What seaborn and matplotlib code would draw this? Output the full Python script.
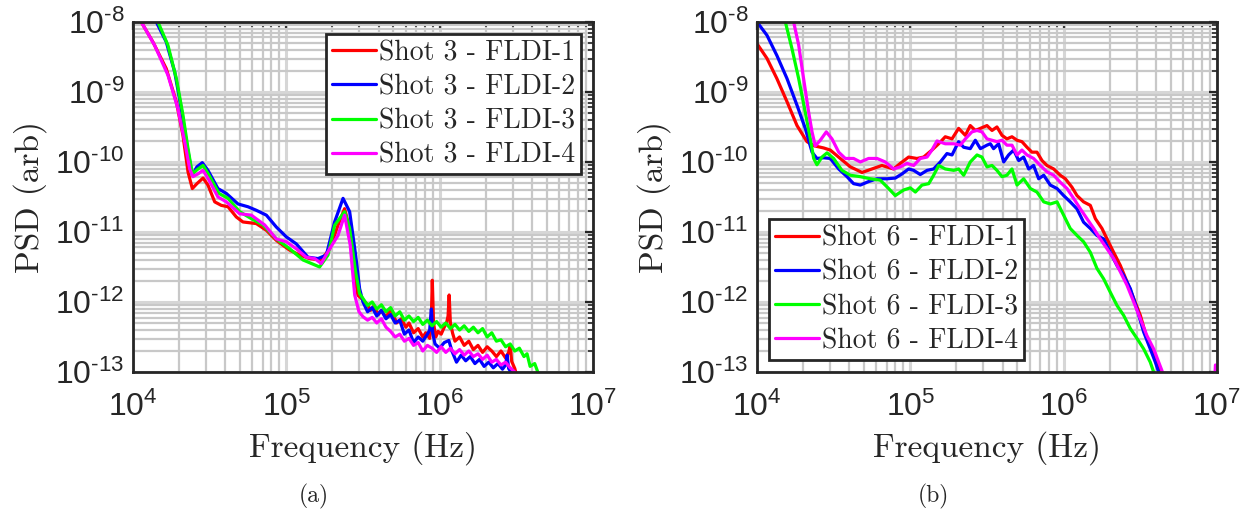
import numpy as np
import pandas as pd
import matplotlib
matplotlib.use("Agg")
import matplotlib.pyplot as plt
import seaborn as sns
from matplotlib.ticker import FuncFormatter, LogLocator, NullFormatter

# values, stored as log10(frequency) / log10(PSD)

# ---- (a) shot 3 ----
a1_f = [4.0, 4.054, 4.13, 4.217, 4.283, 4.326, 4.359, 4.387, 4.417, 4.457, 4.489, 4.533, 4.576, 4.62, 4.674,
        4.717, 4.804, 4.87, 4.935, 5.022, 5.087, 5.152, 5.228, 5.283, 5.337, 5.38, 5.413, 5.446, 5.467,
        5.50, 5.53, 5.55, 5.57, 5.60, 5.62, 5.65, 5.68, 5.70, 5.72, 5.75, 5.78, 5.80, 5.83, 5.86, 5.89, 5.91,
        5.935, 5.945, 5.952, 5.96, 5.975, 5.99, 6.01, 6.03, 6.045, 6.055, 6.062, 6.07, 6.085, 6.10, 6.13, 6.16,
        6.19, 6.22, 6.25, 6.28, 6.31, 6.34, 6.37, 6.40, 6.43, 6.45, 6.46, 6.47, 6.49, 6.52]
a1_p = [-7.75, -8.0, -8.286, -8.667, -9.143, -9.62, -10.143, -10.38, -10.31, -10.23, -10.33, -10.57, -10.62,
        -10.64, -10.786, -10.857, -10.88, -10.976, -11.12, -11.26, -11.33, -11.38, -11.40, -11.24, -10.905,
        -10.667, -10.95, -11.62, -11.905,
        -11.97, -12.04, -12.12, -12.06, -12.18, -12.12, -12.22, -12.10, -12.20, -12.30, -12.24, -12.36, -12.30,
        -12.44, -12.38, -12.50, -12.44, -12.52, -12.3, -11.69, -12.3, -12.50, -12.42, -12.46, -12.36, -12.30,
        -12.2, -11.9, -12.3, -12.45, -12.56, -12.50, -12.62, -12.56, -12.68, -12.62, -12.72, -12.64, -12.70,
        -12.78, -12.70, -12.80, -12.72, -12.62, -12.85, -12.95, -13.2]

a2_f = [4.10, 4.152, 4.217, 4.272, 4.315, 4.348, 4.387, 4.417, 4.452, 4.489, 4.554, 4.609, 4.685, 4.75, 4.804,
        4.87, 4.935, 5.0, 5.065, 5.141, 5.207, 5.261, 5.315, 5.37, 5.413, 5.452, 5.478,
        5.50, 5.53, 5.56, 5.59, 5.62, 5.65, 5.68, 5.71, 5.74, 5.77, 5.80, 5.83, 5.86, 5.89, 5.92, 5.935, 5.946,
        5.955, 5.97, 6.00, 6.03, 6.06, 6.08, 6.11, 6.14, 6.17, 6.20, 6.23, 6.26, 6.29, 6.32, 6.35, 6.38, 6.41,
        6.43, 6.44, 6.45, 6.48, 6.52]
a2_p = [-7.75, -8.0, -8.286, -8.714, -9.238, -9.714, -10.19, -10.07, -10.01, -10.12, -10.38, -10.45, -10.6,
        -10.64, -10.69, -10.76, -10.93, -11.07, -11.17, -11.36, -11.38, -11.33, -10.857, -10.52, -10.71, -11.33,
        -11.81,
        -12.00, -12.14, -12.08, -12.20, -12.12, -12.24, -12.18, -12.30, -12.26, -12.46, -12.40, -12.58, -12.50,
        -12.56, -12.46, -12.40, -12.10, -12.45, -12.60, -12.66, -12.58, -12.55, -12.70, -12.86, -12.76, -12.84,
        -12.78, -12.88, -12.82, -12.92, -12.86, -12.94, -12.88, -12.96, -12.90, -12.76, -12.95, -13.05, -13.3]

a3_f = [4.11, 4.163, 4.228, 4.283, 4.326, 4.359, 4.387, 4.424, 4.457, 4.496, 4.561, 4.62, 4.696, 4.772, 4.848,
        4.935, 5.022, 5.109, 5.217, 5.272, 5.315, 5.38, 5.413, 5.452, 5.478,
        5.50, 5.53, 5.56, 5.59, 5.62, 5.65, 5.68, 5.71, 5.74, 5.77, 5.80, 5.83, 5.86, 5.89, 5.92, 5.95, 5.98,
        6.01, 6.04, 6.07, 6.10, 6.13, 6.16, 6.19, 6.22, 6.25, 6.28, 6.31, 6.34, 6.37, 6.40, 6.43, 6.46, 6.49,
        6.52, 6.55, 6.57, 6.59, 6.62, 6.64, 6.66]
a3_p = [-7.75, -8.0, -8.333, -8.81, -9.33, -9.81, -10.17, -10.1, -10.05, -10.19, -10.45, -10.52, -10.71, -10.81,
        -10.9, -11.1, -11.24, -11.4, -11.5, -11.33, -10.905, -10.71, -10.95, -11.57, -11.88,
        -11.95, -12.05, -12.00, -12.10, -12.04, -12.14, -12.08, -12.20, -12.14, -12.26, -12.20, -12.28, -12.22,
        -12.32, -12.26, -12.34, -12.28, -12.36, -12.30, -12.38, -12.32, -12.40, -12.34, -12.42, -12.36, -12.44,
        -12.38, -12.50, -12.44, -12.56, -12.54, -12.64, -12.60, -12.70, -12.66, -12.78, -12.74, -12.92, -12.88,
        -13.0, -13.2]

a4_f = [4.0, 4.054, 4.141, 4.228, 4.293, 4.337, 4.37, 4.391, 4.424, 4.457, 4.496, 4.554, 4.609, 4.696, 4.772,
        4.859, 4.935, 5.0, 5.065, 5.13, 5.185, 5.228, 5.283, 5.337, 5.38, 5.417, 5.446, 5.474,
        5.50, 5.53, 5.56, 5.59, 5.62, 5.65, 5.68, 5.71, 5.74, 5.77, 5.80, 5.83, 5.86, 5.89, 5.92, 5.95, 5.98,
        6.01, 6.04, 6.07, 6.10, 6.13, 6.16, 6.19, 6.22, 6.25, 6.28, 6.31, 6.34, 6.37, 6.40, 6.43, 6.46, 6.49,
        6.52]
a4_p = [-7.75, -8.0, -8.333, -8.76, -9.24, -9.71, -10.1, -10.21, -10.17, -10.12, -10.26, -10.5, -10.57, -10.74,
        -10.76, -10.9, -11.1, -11.14, -11.24, -11.36, -11.38, -11.45, -11.24, -11.05, -10.76, -11.19, -11.9,
        -12.14,
        -12.21, -12.26, -12.22, -12.30, -12.24, -12.36, -12.42, -12.50, -12.46, -12.56, -12.52, -12.62, -12.58,
        -12.70, -12.62, -12.66, -12.72, -12.64, -12.72, -12.66, -12.74, -12.68, -12.76, -12.70, -12.78, -12.74,
        -12.82, -12.76, -12.86, -12.82, -12.90, -12.86, -12.94, -13.0, -13.2]

# ---- (b) shot 6 ----
b1_f = [4.0, 4.065, 4.13, 4.196, 4.261, 4.326, 4.374, 4.435, 4.478, 4.543, 4.609, 4.685, 4.75, 4.815, 4.891,
        4.935, 4.989, 5.043, 5.087, 5.141, 5.185, 5.228, 5.272, 5.315, 5.359, 5.391, 5.424, 5.457, 5.5,
        5.533, 5.565, 5.598, 5.63, 5.663, 5.696, 5.728, 5.761, 5.793, 5.826, 5.859, 5.891, 5.935, 5.978, 6.011,
        6.054, 6.087, 6.13, 6.174, 6.207, 6.25, 6.283, 6.326, 6.37, 6.413, 6.457, 6.5, 6.543, 6.587, 6.62, 6.65]
b1_p = [-8.31, -8.52, -8.81, -9.14, -9.48, -9.71, -9.77, -9.8, -9.83, -9.95, -10.07, -10.15, -10.1, -10.05,
        -10.1, -10.02, -9.93, -9.95, -9.93, -9.83, -9.74, -9.64, -9.67, -9.52, -9.62, -9.48, -9.55, -9.52,
        -9.48, -9.55, -9.5, -9.62, -9.67, -9.64, -9.69, -9.71, -9.79, -9.86, -9.86, -9.98, -10.05, -10.1,
        -10.19, -10.24, -10.36, -10.48, -10.57, -10.62, -10.81, -10.95, -11.1, -11.29, -11.48, -11.71, -11.95,
        -12.19, -12.52, -12.76, -12.95, -13.2]

b2_f = [4.0, 4.065, 4.13, 4.196, 4.261, 4.315, 4.359, 4.391, 4.435, 4.478, 4.533, 4.587, 4.63, 4.674, 4.728,
        4.783, 4.848, 4.902, 4.946, 4.989, 5.022, 5.065, 5.109, 5.152, 5.196, 5.239, 5.272, 5.315, 5.348,
        5.391, 5.424, 5.457, 5.5, 5.522, 5.543, 5.576, 5.609, 5.641, 5.674, 5.707, 5.739, 5.772, 5.804, 5.837,
        5.87, 5.913, 5.957, 6.0, 6.043, 6.087, 6.13, 6.174, 6.217, 6.261, 6.304, 6.348, 6.391, 6.435, 6.478,
        6.522, 6.565, 6.598, 6.62, 6.65]
b2_p = [-8.0, -8.19, -8.48, -8.81, -9.19, -9.52, -9.86, -9.95, -9.94, -9.95, -10.1, -10.21, -10.31, -10.33,
        -10.28, -10.24, -10.24, -10.23, -10.17, -10.1, -10.12, -10.18, -10.12, -10.1, -10.0, -9.88, -9.9,
        -9.71, -9.79, -9.81, -9.69, -9.81, -9.76, -9.74, -9.81, -9.74, -10.0, -9.9, -9.83, -9.98, -9.93,
        -10.1, -10.05, -10.24, -10.19, -10.33, -10.38, -10.48, -10.57, -10.67, -10.86, -10.95, -11.05, -11.1,
        -11.29, -11.48, -11.62, -11.81, -12.1, -12.43, -12.67, -12.86, -13.0, -13.2]

b3_f = [4.16, 4.185, 4.228, 4.272, 4.315, 4.348, 4.37, 4.391, 4.424, 4.457, 4.5, 4.554, 4.609, 4.674, 4.739,
        4.804, 4.859, 4.902, 4.957, 5.0, 5.033, 5.076, 5.12, 5.152, 5.185, 5.228, 5.283, 5.315, 5.348, 5.391,
        5.435, 5.467, 5.5, 5.533, 5.565, 5.598, 5.63, 5.663, 5.696, 5.739, 5.783, 5.826, 5.87, 5.913, 5.957,
        6.0, 6.043, 6.087, 6.13, 6.174, 6.217, 6.261, 6.304, 6.348, 6.391, 6.435, 6.478, 6.522, 6.565, 6.587,
        6.62]
b3_p = [-7.8, -8.0, -8.38, -8.81, -9.29, -9.67, -9.95, -10.04, -9.93, -9.87, -9.95, -10.12, -10.19, -10.21,
        -10.24, -10.26, -10.38, -10.48, -10.4, -10.37, -10.43, -10.33, -10.31, -10.19, -10.05, -10.1, -10.12,
        -10.1, -10.19, -10.0, -9.9, -9.93, -10.07, -10.05, -10.12, -10.21, -10.19, -10.1, -10.33, -10.24,
        -10.38, -10.43, -10.57, -10.6, -10.57, -10.76, -10.95, -11.05, -11.14, -11.29, -11.52, -11.67, -11.86,
        -12.05, -12.19, -12.38, -12.52, -12.67, -12.86, -13.0, -13.2]

b4_f = [4.22, 4.239, 4.272, 4.304, 4.337, 4.359, 4.38, 4.413, 4.452, 4.489, 4.533, 4.576, 4.63, 4.674, 4.728,
        4.783, 4.837, 4.891, 4.935, 4.978, 5.022, 5.065, 5.109, 5.141, 5.174, 5.228, 5.283, 5.326, 5.359,
        5.402, 5.435, 5.467, 5.5, 5.533, 5.565, 5.598, 5.63, 5.663, 5.696, 5.728, 5.761, 5.804, 5.848, 5.891,
        5.935, 5.978, 6.022, 6.065, 6.109, 6.152, 6.196, 6.239, 6.283, 6.326, 6.37, 6.413, 6.457, 6.5, 6.543,
        6.587, 6.62, 6.641, 6.70, 6.98, 6.99, 7.0]
b4_p = [-7.8, -8.0, -8.33, -8.81, -9.29, -9.57, -9.77, -9.69, -9.57, -9.67, -9.86, -9.95, -9.95, -10.0,
        -9.95, -9.95, -10.0, -10.1, -10.07, -10.02, -10.05, -9.95, -9.93, -9.83, -9.7, -9.74, -9.74, -9.76,
        -9.67, -9.57, -9.55, -9.57, -9.67, -9.69, -9.71, -9.69, -9.76, -9.76, -9.9, -9.83, -9.9, -9.95,
        -10.05, -10.14, -10.19, -10.29, -10.38, -10.52, -10.67, -10.81, -10.95, -11.1, -11.24, -11.38, -11.57,
        -11.76, -12.0, -12.24, -12.48, -12.67, -12.86, -12.98, -13.4, -13.4, -12.9, -12.92]

colors = ["#ff0000", "#0000ff", "#00ff00", "#ff00ff"]
panels = [
    ("Shot 3", [(a1_f, a1_p), (a2_f, a2_p), (a3_f, a3_p), (a4_f, a4_p)], "upper right", "(a)"),
    ("Shot 6", [(b1_f, b1_p), (b2_f, b2_p), (b3_f, b3_p), (b4_f, b4_p)], "lower left", "(b)"),
]

sns.set_style("white")
plt.rcParams["font.family"] = ["Liberation Sans", "DejaVu Sans"]
plt.rcParams["mathtext.fontset"] = "custom"
plt.rcParams["mathtext.rm"] = "Liberation Sans"
plt.rcParams["mathtext.it"] = "Liberation Sans:italic"

serif = "cmr10"
dark = "#262626"


def exp_label(v, pos):
    e = int(round(np.log10(v)))
    return r"$\mathregular{10^{\text{%d}}}$" % e


fig = plt.figure(figsize=(12.51, 5.14), dpi=100)
ax_pos = [[0.1063, 0.2763, 0.3677, 0.681], [0.6051, 0.2763, 0.3677, 0.681]]
cap_x = [0.251, 0.746]

for k, (shot, series, loc, cap) in enumerate(panels):
    ax = fig.add_axes(ax_pos[k])
    for i, (lf, lp) in enumerate(series):
        df = pd.DataFrame({"f": 10 ** np.array(lf), "psd": 10 ** np.array(lp)})
        sns.lineplot(data=df, x="f", y="psd", ax=ax, color=colors[i], lw=2.3,
                     sort=False, estimator=None, label=f"{shot} - FLDI-{i + 1}")
    ax.set_xscale("log")
    ax.set_yscale("log")
    ax.set_xlim(1e4, 1e7)
    ax.set_ylim(1e-13, 1e-8)

    ax.set_axisbelow(True)
    ax.grid(which="major", color="#d6d6d6", lw=2.2)
    ax.grid(which="minor", color="#c8c8c8", lw=1.6)

    ax.xaxis.set_major_locator(LogLocator(base=10, numticks=10))
    ax.yaxis.set_major_locator(LogLocator(base=10, numticks=10))
    ax.xaxis.set_minor_locator(LogLocator(base=10, subs=np.arange(2, 10), numticks=20))
    ax.yaxis.set_minor_locator(LogLocator(base=10, subs=np.arange(2, 10), numticks=20))
    ax.xaxis.set_major_formatter(FuncFormatter(exp_label))
    ax.yaxis.set_major_formatter(FuncFormatter(exp_label))
    ax.xaxis.set_minor_formatter(NullFormatter())
    ax.yaxis.set_minor_formatter(NullFormatter())
    ax.tick_params(which="both", direction="in", top=True, right=True, color=dark,
                   labelsize=23, labelcolor=dark)
    ax.tick_params(axis="x", which="major", length=6, width=1.6, pad=14)
    ax.tick_params(axis="y", which="major", length=6, width=1.6, pad=6)
    ax.tick_params(which="minor", length=3.5, width=1.2)
    for s in ax.spines.values():
        s.set_color(dark)
        s.set_linewidth(2.0)

    ax.set_xlabel("Frequency (Hz)", family=serif, fontsize=24, color=dark)
    ax.set_ylabel("PSD (arb)", family=serif, fontsize=24, color=dark)
    ax.xaxis.set_label_coords(0.5, -0.168)
    ax.yaxis.set_label_coords(-0.188, 0.5)

    leg = ax.legend(loc=loc, prop={"family": serif, "size": 20}, frameon=True, fancybox=False,
                    framealpha=1, edgecolor=dark, handlelength=1.6, handletextpad=0.1,
                    labelspacing=0.28, borderpad=0.22, borderaxespad=0.42)
    leg.get_frame().set_linewidth(2.0)

    fig.text(cap_x[k], 0.035, cap, family=serif, fontsize=17, color=dark, ha="center", va="center")

fig.savefig("out.png", dpi=100)
